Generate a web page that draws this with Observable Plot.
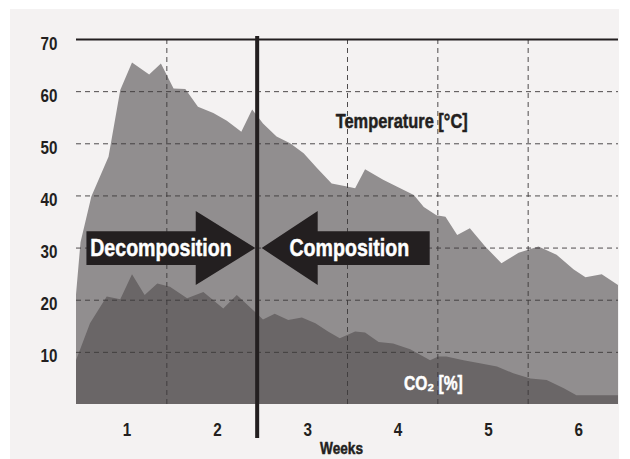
<!DOCTYPE html>
<html><head><meta charset="utf-8">
<script src="https://cdn.jsdelivr.net/npm/d3@7"></script>
<script src="https://cdn.jsdelivr.net/npm/@observablehq/plot@0.6"></script>
<style>
body{margin:0;background:#fff;}
#wrap{position:absolute;left:10px;top:9px;width:609px;height:450px;background:#f4f2f2;}
</style></head><body><div id="wrap"></div><script>
// Temperature [°C] by week
const tempWeek = [0,0.05,0.17,0.36,0.49,0.62,0.81,0.94,1.08,1.21,1.35,1.52,1.67,1.83,1.95,2.07,2.22,2.37,2.52,2.67,2.83,3.0,3.09,3.2,3.4,3.55,3.74,3.85,3.99,4.09,4.22,4.36,4.53,4.71,4.9,5.12,5.32,5.51,5.64,5.82,6.0];
const tempValue = [21,31,39.8,47.4,60.2,65.5,63.2,65.3,60.5,60.4,57,55.8,54.3,52.2,56.5,53.8,51.3,50,48.1,45.2,42.3,41.7,41.4,45,43,41.7,40.1,37.8,36.2,35.9,32.4,33.7,30.2,27,29,30.2,28.6,25.8,24.3,24.9,22.8];
// CO2 [%] by week
const co2Week = [0,0.155,0.34,0.49,0.62,0.76,0.9,1.04,1.23,1.41,1.63,1.78,1.98,2.07,2.2,2.35,2.5,2.65,2.79,2.92,3.09,3.2,3.35,3.51,3.7,3.92,4.01,4.1,4.29,4.47,4.66,4.84,5.03,5.21,5.4,5.54,6.0];
const co2Value = [8.4,15.5,20.6,20.1,24.9,20.9,23.1,22.5,20.3,21.5,18.3,20.9,17.7,16.2,17.3,16.1,16.6,15.5,13.9,12.6,13.9,13.7,11.9,11.6,10.5,8.4,9.1,9.1,8.4,7.8,7.2,5.9,4.9,4.6,3.0,1.7,1.7];
// Axes
const yTicks = [10,20,30,40,50,60,70];
const gridY = [10,20,30,40,50,60];
const gridX = [1,2,3,4,5];
const weekLabels = ["1","2","3","4","5","6"];
const phaseSplit = 2; // end of week 2
// Arrow annotations (in week / value units)
const decompArrow = {label:"Decomposition", tail:0.11, head:1.32, tip:1.98, at:30};
const compArrow = {label:"Composition", tail:3.91, head:2.67, tip:2.05, at:30};
const bodyHalf = 3.25, headHalf = 7.1;

const temp = tempWeek.map((w,i)=>({week:w, value:tempValue[i]}));
const co2 = co2Week.map((w,i)=>({week:w, value:co2Value[i]}));
const arrowPoly = a => [
  {x:a.tail, y:a.at-bodyHalf},{x:a.head, y:a.at-bodyHalf},{x:a.head, y:a.at-headHalf},
  {x:a.tip, y:a.at},{x:a.head, y:a.at+headHalf},{x:a.head, y:a.at+bodyHalf},{x:a.tail, y:a.at+bodyHalf}
];
const weekTickPos = weekLabels.map((d,i)=>i+1-0.44);

const font = '"Liberation Sans",Arial,sans-serif';
const ink = "#231f20";
const grid = {stroke:"#3d3a3b", strokeDasharray:"5,4", strokeWidth:1, strokeOpacity:0.9};
const heavy = c => ({fill:c, stroke:c, strokeWidth:0.5, fontWeight:"bold"});

const chart = Plot.plot({
  width:609, height:450,
  marginLeft:66, marginRight:1, marginTop:30, marginBottom:55,
  x:{domain:[0,6]}, y:{domain:[0,70]},
  style:{background:"transparent", fontFamily:font, fontWeight:"bold", fontSize:"19px", color:ink},
  marks:[
    Plot.areaY(temp, {x:"week", y:"value", fill:"#918e8f"}),
    Plot.areaY(co2, {x:"week", y:"value", fill:"#6a6667"}),
    Plot.ruleY(gridY, grid),
    Plot.ruleX(gridX, grid),
    Plot.ruleY([70], {stroke:ink, strokeWidth:2}),
    Plot.ruleX([phaseSplit], {stroke:ink, strokeWidth:4, insetTop:-3, insetBottom:-34}),
    Plot.line(arrowPoly(decompArrow), {x:"x", y:"y", fill:ink, stroke:"none"}),
    Plot.line(arrowPoly(compArrow), {x:"x", y:"y", fill:ink, stroke:"none"}),
    Plot.text([decompArrow], {x:d=>(d.tail+d.head)/2+0.22, y:"at", text:"label", fontSize:24.5, ...heavy("white")}),
    Plot.text([compArrow], {x:d=>(d.tail+d.head)/2-0.27, y:"at", text:"label", fontSize:24.5, ...heavy("white")}),
    Plot.text(["Temperature [°C]"], {x:3.6, y:54.3, fontSize:20.5, ...heavy(ink)}),
    Plot.text(["CO₂ [%]"], {x:3.95, y:4.0, fontSize:19.5, ...heavy("white")}),
    Plot.axisY({ticks:yTicks, tickSize:0, tickPadding:19, dy:4, fontSize:19, label:null, stroke:ink, strokeWidth:0.4}),
    Plot.axisX({ticks:weekTickPos, tickFormat:(d,i)=>weekLabels[i], tickSize:0, tickPadding:18, fontSize:19, label:null, stroke:ink, strokeWidth:0.4}),
    Plot.text(["Weeks"], {frameAnchor:"bottom", lineAnchor:"middle", dx:-6, dy:44, fontSize:17, ...heavy(ink)})
  ]
});
document.getElementById("wrap").appendChild(chart);
// condensed look: squeeze glyphs horizontally (Helvetica Condensed style)
chart.querySelectorAll("text").forEach(t => {
  const len = t.getComputedTextLength();
  if (len > 0) {
    t.setAttribute("textLength", (len * 0.8).toFixed(1));
    t.setAttribute("lengthAdjust", "spacingAndGlyphs");
  }
});
</script></body></html>
